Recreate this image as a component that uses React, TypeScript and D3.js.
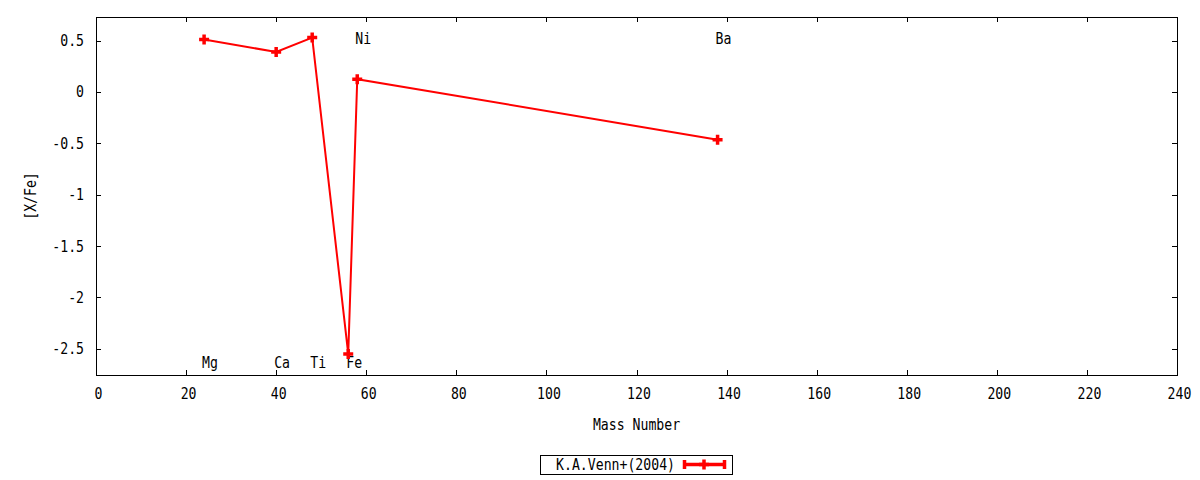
import React, { useEffect, useRef } from 'react';
import * as d3 from 'd3';

// Abundance ratios [X/Fe] vs mass number
const elements = ['Mg', 'Ca', 'Ti', 'Fe', 'Ni', 'Ba'];
const massNumbers = [24, 40, 48, 56, 58, 138];
const xFe = [0.51, 0.39, 0.53, -2.55, 0.125, -0.465];
// label y-position (data units), labels sit at the mass number
const labelY = [-2.63, -2.63, -2.63, -2.63, 0.52, 0.52];

const xTicks = [0, 20, 40, 60, 80, 100, 120, 140, 160, 180, 200, 220, 240];
const yTicks = [0.5, 0, -0.5, -1, -1.5, -2, -2.5];
const seriesName = 'K.A.Venn+(2004)';

const width = 1200;
const height = 480;
const margin = { top: 17, right: 23, bottom: 105, left: 96 };
const FONT = '"DejaVu Sans Mono", monospace';
const SX = 0.85; // the reference font is a narrow mono face

const App: React.FC = () => {
  const svgRef = useRef<SVGSVGElement>(null);

  useEffect(() => {
    if (!svgRef.current) return;
    const svg = d3.select(svgRef.current);
    svg.selectAll('*').remove();

    const x0 = margin.left;
    const x1 = width - margin.right;
    const y0 = margin.top;
    const y1 = height - margin.bottom;

    const x = d3.scaleLinear().domain([0, 240]).range([x0, x1]);
    const y = d3.scaleLinear().domain([-2.755, 0.73]).range([y1, y0]);

    // narrow text: translate to the anchor point, squeeze horizontally
    const label = (tx: number, ty: number, s: string, anchor = 'start', rot = 0) =>
      svg.append('text')
        .attr('transform', `translate(${tx},${ty})${rot ? ` rotate(${rot})` : ''} scale(${SX},1)`)
        .attr('font-family', FONT)
        .attr('font-size', 15.5)
        .attr('fill', '#000')
        .attr('text-anchor', anchor)
        .text(s);

    // ticks (inward, mirrored)
    const tickLen = 5;
    const tg = svg.append('g').attr('stroke', '#000').attr('stroke-width', 1);
    xTicks.forEach(t => {
      const px = Math.round(x(t)) + 0.5;
      tg.append('line').attr('x1', px).attr('x2', px).attr('y1', y1).attr('y2', y1 - tickLen);
      tg.append('line').attr('x1', px).attr('x2', px).attr('y1', y0).attr('y2', y0 + tickLen);
    });
    yTicks.forEach(t => {
      const py = Math.round(y(t)) + 0.5;
      tg.append('line').attr('x1', x0).attr('x2', x0 + tickLen).attr('y1', py).attr('y2', py);
      tg.append('line').attr('x1', x1).attr('x2', x1 - tickLen).attr('y1', py).attr('y2', py);
    });

    // frame
    svg.append('rect')
      .attr('x', x0 + 0.5).attr('y', y0 + 0.5)
      .attr('width', x1 - x0).attr('height', y1 - y0)
      .attr('fill', 'none').attr('stroke', '#000').attr('stroke-width', 1);

    // tick labels
    xTicks.forEach(t => label(x(t) + 2.5, y1 + 24, String(t), 'middle'));
    yTicks.forEach(t => label(x0 - 12, y(t) + 5.5, String(t), 'end'));

    // axis titles
    label((x0 + x1) / 2, y1 + 55, 'Mass Number', 'middle');
    label(36, (y0 + y1) / 2, '[X/Fe]', 'middle', -90);

    // element labels
    elements.forEach((el, i) => label(x(massNumbers[i]) - 2, y(labelY[i]) + 5.5, el));

    // series line
    const pts = massNumbers.map((m, i) => [m, xFe[i]] as [number, number]);
    const line = d3.line<[number, number]>().x(d => x(d[0])).y(d => y(d[1]));
    svg.append('path')
      .datum(pts)
      .attr('fill', 'none')
      .attr('stroke', '#ff0000')
      .attr('stroke-width', 2)
      .attr('d', line);

    const plus = (cx: number, cy: number, r: number) =>
      `M${cx - r},${cy}H${cx + r}M${cx},${cy - r}V${cy + r}`;

    svg.append('g').selectAll('path')
      .data(pts)
      .enter()
      .append('path')
      .attr('d', d => plus(x(d[0]), y(d[1]), 5))
      .attr('stroke', '#ff0000')
      .attr('stroke-width', 3.5)
      .attr('fill', 'none');

    // legend
    const lg = svg.append('g');
    lg.append('rect')
      .attr('x', 540.5).attr('y', 455.5)
      .attr('width', 192).attr('height', 19)
      .attr('fill', 'none').attr('stroke', '#000').attr('stroke-width', 1);
    label(675, 470, seriesName, 'end');
    lg.append('path')
      .attr('d', `M683,464.5H726M684.5,460V469M724.5,460V469`)
      .attr('stroke', '#ff0000').attr('stroke-width', 3.5).attr('fill', 'none');
    lg.append('path')
      .attr('d', plus(704, 464.5, 5))
      .attr('stroke', '#ff0000').attr('stroke-width', 3.5).attr('fill', 'none');
  }, []);

  return (
    <svg ref={svgRef} width={width} height={height}
      style={{ display: 'block', position: 'absolute', left: 0, top: 0, background: '#fff' }} />
  );
};

export default App;
